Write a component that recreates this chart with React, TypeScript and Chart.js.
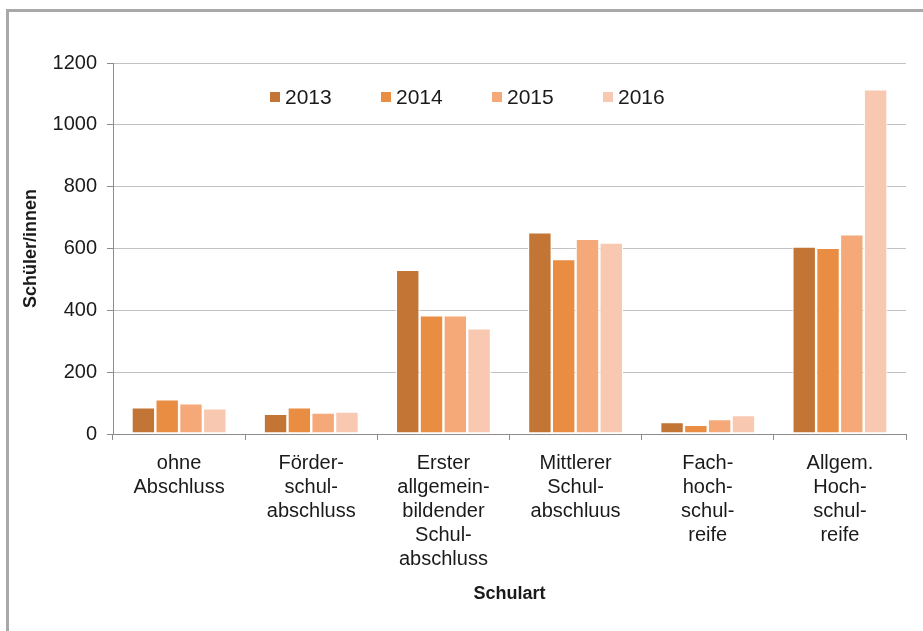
import React, { useEffect, useRef } from "react";
import { Chart, registerables } from "chart.js";

Chart.register(...registerables);

const categories: string[][] = [
  ["ohne", "Abschluss"],
  ["Förder-", "schul-", "abschluss"],
  ["Erster", "allgemein-", "bildender", "Schul-", "abschluss"],
  ["Mittlerer", "Schul-", "abschluus"],
  ["Fach-", "hoch-", "schul-", "reife"],
  ["Allgem.", "Hoch-", "schul-", "reife"],
];

const seriesNames = ["2013", "2014", "2015", "2016"];
const values2013 = [86, 65, 531, 652, 39, 606];
const values2014 = [112, 86, 384, 566, 30, 602];
const values2015 = [99, 69, 384, 631, 48, 646];
const values2016 = [83, 73, 342, 619, 61, 1115];
const seriesColors = ["#C27535", "#E98D43", "#F5A878", "#F8C8B0"];

const yTicks = [0, 200, 400, 600, 800, 1000, 1200];
const yTitle = "Schüler/innen";
const xTitle = "Schulart";

const FONT = "'Liberation Sans', Arial, sans-serif";

const legendPlugin = {
  id: "innerLegend",
  afterDraw(chart: any) {
    const ctx = chart.ctx;
    const area = chart.chartArea;
    ctx.save();
    ctx.font = `21px ${FONT}`;
    ctx.textBaseline = "middle";
    ctx.textAlign = "left";
    const y = area.top + 34;
    let x = area.left + 157;
    const step = 111;
    chart.data.datasets.forEach((ds: any) => {
      ctx.fillStyle = ds.backgroundColor;
      ctx.fillRect(x, y - 5, 10, 10);
      ctx.fillStyle = "#1a1a1a";
      ctx.fillText(ds.label, x + 15, y + 1);
      x += step;
    });
    ctx.restore();
  },
};

export default function App() {
  const ref = useRef<HTMLCanvasElement>(null);

  useEffect(() => {
    if (!ref.current) return;
    const data = [values2013, values2014, values2015, values2016];
    const chart = new Chart(ref.current, {
      type: "bar",
      data: {
        labels: categories,
        datasets: seriesNames.map((name, i) => ({
          label: name,
          data: data[i],
          backgroundColor: seriesColors[i],
          borderColor: "#ffffff",
          borderWidth: 1.2,
          borderSkipped: false,
          categoryPercentage: 0.72,
          barPercentage: 1,
        })),
      },
      options: {
        animation: false,
        responsive: false,
        maintainAspectRatio: false,
        devicePixelRatio: 1,
        layout: { padding: { left: 8, top: 63, right: 17, bottom: 0 } },
        plugins: {
          legend: { display: false },
          tooltip: { enabled: false },
        },
        scales: {
          x: {
            offset: true,
            grid: {
              offset: true,
              drawOnChartArea: false,
              drawTicks: true,
              tickLength: 6,
              color: "#8c8c8c",
            },
            border: { display: true, color: "#8c8c8c", width: 1 },
            ticks: {
              color: "#1a1a1a",
              font: { family: FONT, size: 20, lineHeight: 1.2 },
              padding: 11,
              maxRotation: 0,
              autoSkip: false,
            },
            title: {
              display: true,
              text: xTitle,
              color: "#1a1a1a",
              font: { family: FONT, size: 18, weight: "bold" },
              padding: { top: 0, bottom: 26 },
            },
            afterFit(scale: any) {
              scale.height = 197;
            },
          },
          y: {
            min: 0,
            max: 1200,
            afterBuildTicks(scale: any) {
              scale.ticks = yTicks.map((v) => ({ value: v }));
            },
            grid: {
              color: "#c2c2c2",
              tickLength: 6,
              drawTicks: true,
              tickColor: "#8c8c8c",
            },
            border: { display: true, color: "#8c8c8c", width: 1 },
            ticks: {
              color: "#1a1a1a",
              font: { family: FONT, size: 20 },
              padding: 10,
              callback: (v: any) => String(v),
            },
            title: {
              display: true,
              text: yTitle,
              color: "#1a1a1a",
              font: { family: FONT, size: 18, weight: "bold" },
              padding: { top: 12, bottom: 0 },
            },
            afterFit(scale: any) {
              scale.width = 105;
            },
          },
        },
      },
      plugins: [legendPlugin],
    });
    return () => chart.destroy();
  }, []);

  return (
    <div
      style={{
        position: "fixed",
        left: 0,
        top: 0,
        width: 923,
        height: 631,
        background: "#ffffff",
        overflow: "hidden",
      }}
    >
      <div
        style={{
          position: "absolute",
          left: 6,
          top: 9,
          width: 1000,
          height: 800,
          border: "3px solid #a9a9a9",
          boxSizing: "border-box",
        }}
      />
      <canvas
        ref={ref}
        width={923}
        height={631}
        style={{ position: "absolute", left: 0, top: 0, width: 923, height: 631 }}
      />
    </div>
  );
}
